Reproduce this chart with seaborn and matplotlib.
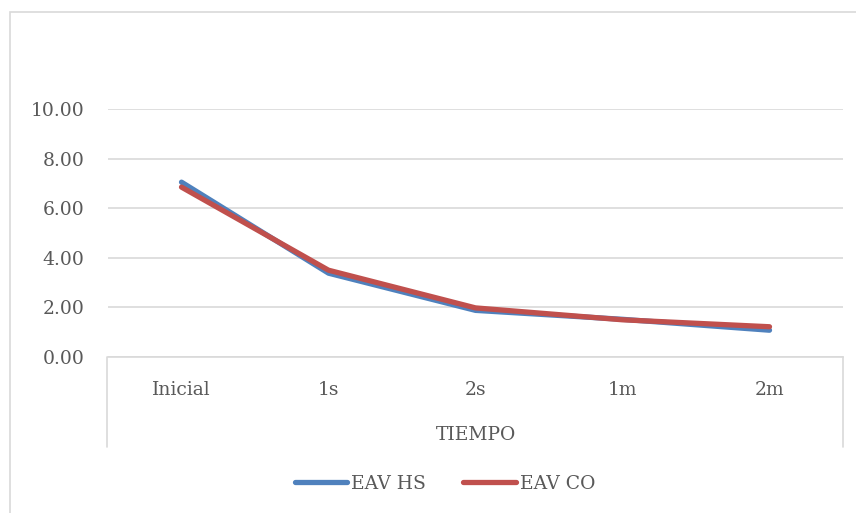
import matplotlib
matplotlib.use("Agg")
import matplotlib.pyplot as plt
import seaborn as sns
import pandas as pd
from matplotlib.lines import Line2D
from matplotlib.patches import Rectangle

categories = ["Inicial", "1s", "2s", "1m", "2m"]
eav_hs = [7.05, 3.38, 1.88, 1.52, 1.08]
eav_co = [6.85, 3.50, 1.98, 1.50, 1.22]
series_names = ["EAV HS", "EAV CO"]
yticks = [0, 2, 4, 6, 8, 10]

W, H = 856, 513
sns.set_theme(style="white")
plt.rcParams["font.family"] = ["DejaVu Serif"]

df = pd.DataFrame({
    "TIEMPO": categories * 2,
    "pos": list(range(len(categories))) * 2,
    "valor": eav_hs + eav_co,
    "serie": [series_names[0]] * len(categories) + [series_names[1]] * len(categories),
})

fig = plt.figure(figsize=(W / 100, H / 100), dpi=100)
ax = fig.add_axes([108 / W, 1 - 357 / H, (843 - 108) / W, (357 - 109) / H])

palette = {"EAV HS": "#4F81BD", "EAV CO": "#C0504D"}
sns.lineplot(data=df, x="pos", y="valor", hue="serie", palette=palette, ax=ax,
             linewidth=3.8, legend=False, solid_capstyle="round", sort=False)

fs = 13.5
ax.set_xlim(-0.5, len(categories) - 0.5)
ax.set_ylim(0, 10)
ax.set_yticks(yticks)
ax.set_yticklabels([f"{v:.2f}" for v in yticks], fontsize=fs, color="#595959")
ax.set_xticks(range(len(categories)))
ax.set_xticklabels(categories, fontsize=fs, color="#595959")
ax.tick_params(axis="x", length=0, pad=17)
ax.tick_params(axis="y", length=0, pad=17)
ax.set_xlabel("TIEMPO", fontsize=fs, color="#595959", labelpad=20)
ax.set_ylabel("")
ax.grid(axis="y", color="#D9D9D9", linewidth=1.2)
ax.set_axisbelow(True)
for s in ["top", "right", "left"]:
    ax.spines[s].set_visible(False)
ax.spines["bottom"].set_color("#D9D9D9")
ax.spines["bottom"].set_linewidth(1.2)

# category band box
for xp in (107, 843):
    fig.add_artist(Line2D([xp / W, xp / W], [1 - 357 / H, 1 - 447 / H],
                          transform=fig.transFigure, color="#D9D9D9", linewidth=1.2))
# outer chart border
fig.add_artist(Rectangle((10 / W, -0.1), 1.2, 1 - 12 / H + 0.1, transform=fig.transFigure,
                         fill=False, edgecolor="#D9D9D9", linewidth=1.2))

handles = [Line2D([0], [0], color=palette[n], linewidth=3.8, solid_capstyle="round") for n in series_names]
leg = fig.legend(handles, series_names, loc="center", bbox_to_anchor=(445 / W, 1 - 484 / H),
                 ncol=2, frameon=False, fontsize=fs, handlelength=2.8, handletextpad=0.2,
                 columnspacing=2.0)
for t in leg.get_texts():
    t.set_color("#595959")

fig.savefig("out.png", dpi=100)
